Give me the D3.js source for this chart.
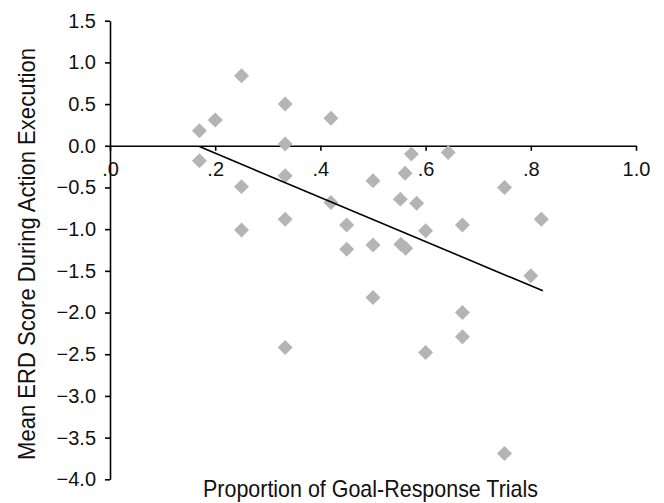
<!DOCTYPE html>
<html>
<head>
<meta charset="utf-8">
<script src="https://cdn.jsdelivr.net/npm/d3@7"></script>
<style>
  html, body { margin: 0; padding: 0; background: #fff; }
  svg { display: block; }
</style>
</head>
<body>
<svg id="chart" width="664" height="503"></svg>
<script>
// Data
const propGoal = [0.17, 0.20, 0.25, 0.333, 0.42, 0.333, 0.17, 0.25, 0.333, 0.25, 0.333, 0.42,
                  0.50, 0.45, 0.45, 0.50, 0.552, 0.553, 0.573, 0.643, 0.561, 0.75, 0.583, 0.82,
                  0.67, 0.60, 0.562, 0.80, 0.67, 0.50, 0.333, 0.67, 0.60, 0.75];
const erdScore = [0.18, 0.31, 0.84, 0.50, 0.33, 0.02, -0.18, -0.49, -0.36, -1.01, -0.88, -0.68,
                  -0.42, -0.95, -1.24, -1.19, -0.64, -1.18, -0.10, -0.08, -0.33, -0.50, -0.69, -0.88,
                  -0.95, -1.02, -1.23, -1.56, -2.00, -1.82, -2.42, -2.29, -2.48, -3.69];
const fitX = [0.17, 0.823];
const fitY = [-0.01, -1.74];
const xTickValues = [0, 0.2, 0.4, 0.6, 0.8, 1.0];
const xTickLabels = [".0", ".2", ".4", ".6", ".8", "1.0"];
const yTickValues = [1.5, 1.0, 0.5, 0.0, -0.5, -1.0, -1.5, -2.0, -2.5, -3.0, -3.5, -4.0];
const xTitle = "Proportion of Goal-Response Trials";
const yTitle = "Mean ERD Score During Action Execution";

const svg = d3.select("#chart");
const x = d3.scaleLinear().domain([0, 1]).range([110, 636]);
const y = d3.scaleLinear().domain([-4, 1.5]).range([479.3, 20.7]);
const fontFam = "'Liberation Sans', Arial, sans-serif";
const fmt = d3.format(".1f");

// Y axis
const yAxis = svg.append("g")
  .attr("transform", `translate(${x(0)},0)`)
  .call(d3.axisLeft(y).tickValues(yTickValues).tickFormat(fmt).tickSize(5).tickSizeOuter(0).tickPadding(9));
yAxis.selectAll("path, line").attr("stroke", "#000").attr("stroke-width", 1.6);
yAxis.selectAll("text").attr("font-family", fontFam).attr("font-size", 20).attr("fill", "#111");

// X axis at y = 0
const xAxis = svg.append("g")
  .attr("transform", `translate(0,${y(0)})`)
  .call(d3.axisBottom(x).tickValues(xTickValues).tickFormat((d, i) => xTickLabels[i]).tickSize(5).tickSizeOuter(0).tickPadding(11));
xAxis.selectAll("path, line").attr("stroke", "#000").attr("stroke-width", 1.6);
xAxis.selectAll("text").attr("font-family", fontFam).attr("font-size", 20).attr("fill", "#111");

// Points (diamonds)
const diamond = d3.symbol().type(d3.symbolSquare).size(112);
svg.append("g").selectAll("path")
  .data(propGoal.map((v, i) => [v, erdScore[i]]))
  .join("path")
  .attr("d", diamond)
  .attr("transform", d => `translate(${x(d[0])},${y(d[1])}) rotate(45)`)
  .attr("fill", "#b4b4b4");

// Fit line
svg.append("path")
  .datum(fitX.map((v, i) => [v, fitY[i]]))
  .attr("d", d3.line().x(d => x(d[0])).y(d => y(d[1])))
  .attr("stroke", "#000").attr("stroke-width", 1.6).attr("fill", "none");

// Titles (condensed look via textLength)
svg.append("text")
  .attr("x", 370.5).attr("y", 497)
  .attr("text-anchor", "middle")
  .attr("font-family", fontFam)
  .attr("font-size", 24).attr("fill", "#111")
  .attr("textLength", 335).attr("lengthAdjust", "spacingAndGlyphs")
  .text(xTitle);

svg.append("text")
  .attr("transform", "translate(35,254) rotate(-90)")
  .attr("text-anchor", "middle")
  .attr("font-family", fontFam)
  .attr("font-size", 24).attr("fill", "#111")
  .attr("textLength", 412).attr("lengthAdjust", "spacingAndGlyphs")
  .text(yTitle);
</script>
</body>
</html>
